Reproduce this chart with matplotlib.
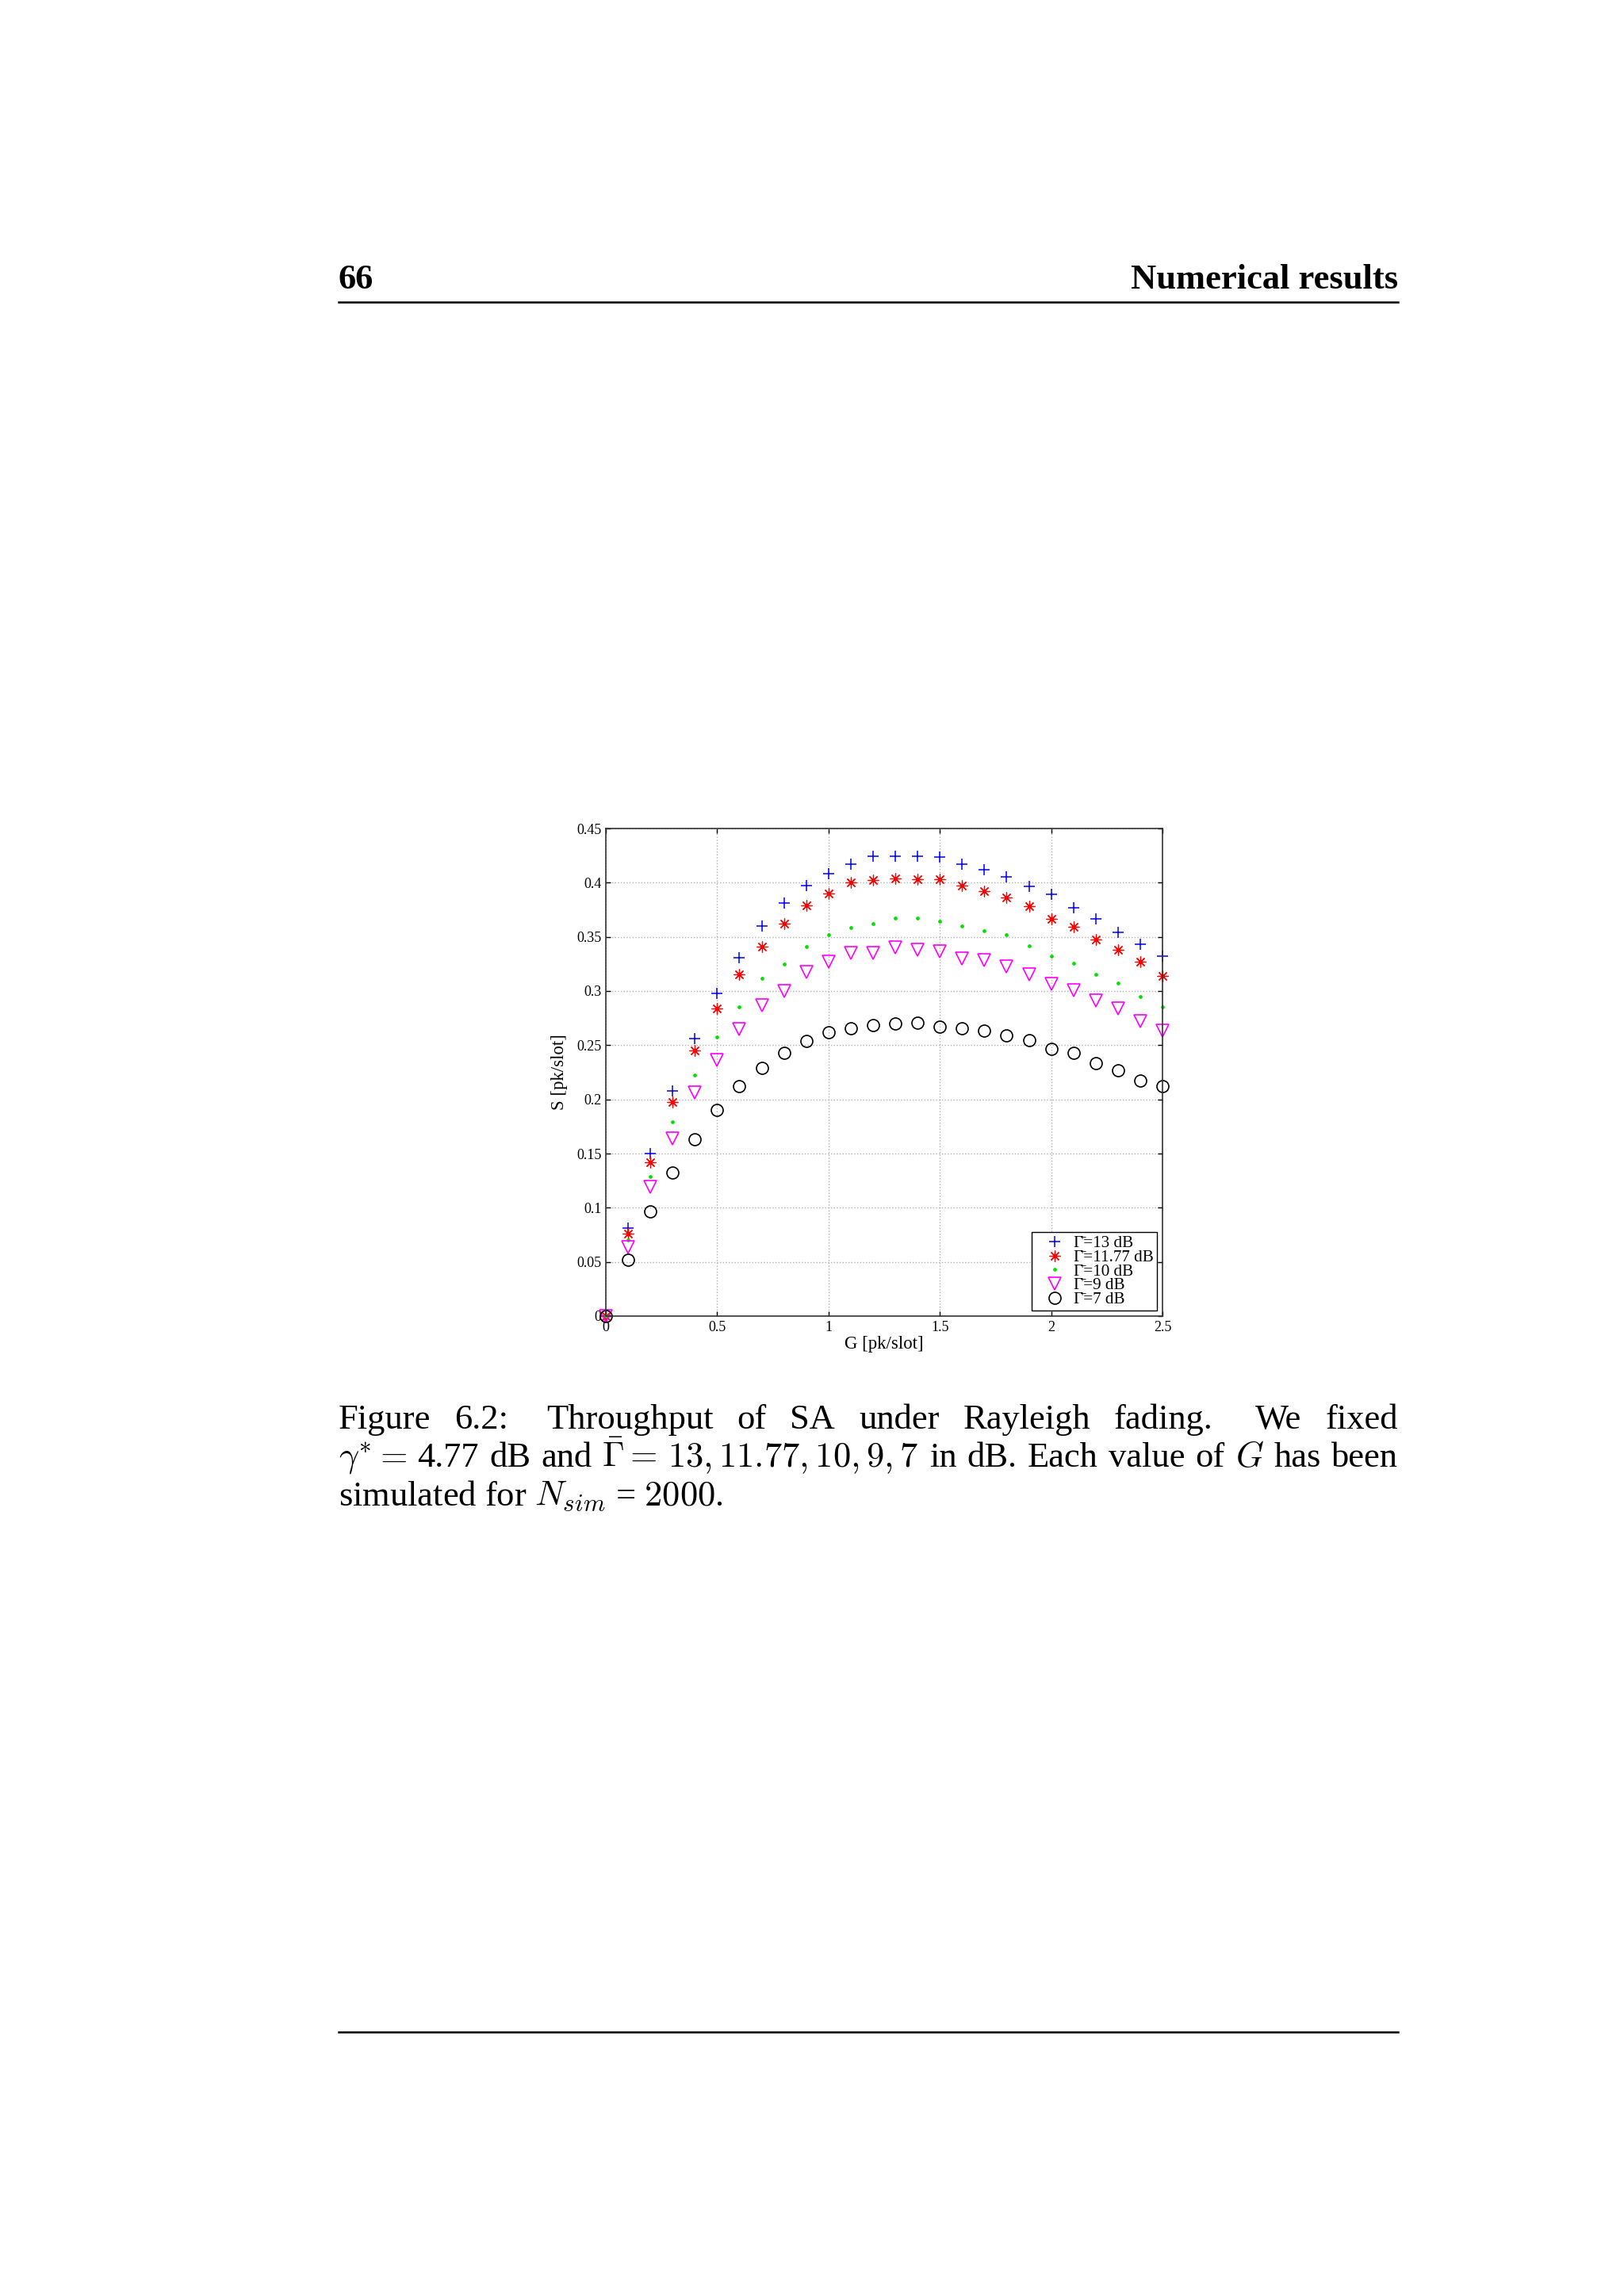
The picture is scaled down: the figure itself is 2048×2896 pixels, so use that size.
import numpy as np
import matplotlib.pyplot as plt
from matplotlib.lines import Line2D

# Throughput S versus offered load G, one series per mean SNR
G = [0.0, 0.1, 0.2, 0.3, 0.4, 0.5, 0.6, 0.7, 0.8, 0.9, 1.0, 1.1, 1.2,
     1.3, 1.4, 1.5, 1.6, 1.7, 1.8, 1.9, 2.0, 2.1, 2.2, 2.3, 2.4, 2.5]

S_13 = [0, 0.081, 0.150, 0.208, 0.256, 0.298, 0.331, 0.360, 0.381, 0.397,
        0.4085, 0.417, 0.4244, 0.4244, 0.4241, 0.4237, 0.4168, 0.4122, 0.4051,
        0.3966, 0.3895, 0.3768, 0.3663, 0.3541, 0.3434, 0.3322]
S_1177 = [0, 0.0761, 0.1422, 0.1976, 0.2451, 0.2837, 0.3151, 0.341, 0.362,
          0.379, 0.3902, 0.400, 0.4024, 0.4039, 0.4029, 0.4029, 0.3973, 0.392,
          0.3861, 0.378, 0.3663, 0.3595, 0.3476, 0.338, 0.3268, 0.3141]
S_10 = [0, 0.070, 0.1288, 0.179, 0.2227, 0.2576, 0.2856, 0.312, 0.3251, 0.3412,
        0.3522, 0.3583, 0.3619, 0.3673, 0.3673, 0.3641, 0.3598, 0.3554, 0.3517,
        0.3415, 0.3324, 0.3259, 0.3151, 0.3073, 0.2951, 0.2851]
S_9 = [0, 0.0634, 0.119, 0.1641, 0.2061, 0.2366, 0.2646, 0.2866, 0.300, 0.3178,
       0.3268, 0.3349, 0.3354, 0.3402, 0.3378, 0.3366, 0.330, 0.3288, 0.3229,
       0.3154, 0.3068, 0.3007, 0.291, 0.2841, 0.272, 0.2634]
S_7 = [0, 0.0517, 0.0963, 0.1327, 0.1634, 0.190, 0.2122, 0.2293, 0.2427, 0.2537,
       0.2622, 0.2659, 0.2688, 0.270, 0.2707, 0.2668, 0.2654, 0.2634, 0.2593,
       0.2544, 0.2468, 0.2427, 0.2334, 0.2268, 0.2176, 0.2122]

# Gamma with a combining macron on top
gbar = '\u0393\u0304'
labels = [gbar + '=13 dB', gbar + '=11.77 dB', gbar + '=10 dB',
          gbar + '=9 dB', gbar + '=7 dB']

xticks = [0, 0.5, 1, 1.5, 2, 2.5]
xtick_labels = ['0', '0.5', '1', '1.5', '2', '2.5']
yticks = [0, 0.05, 0.1, 0.15, 0.2, 0.25, 0.3, 0.35, 0.4, 0.45]
ytick_labels = ['0', '0.05', '0.1', '0.15', '0.2', '0.25', '0.3', '0.35', '0.4', '0.45']

W, H = 2048, 2896
plt.rcParams['font.family'] = ['Liberation Serif', 'DejaVu Serif']

fig = plt.figure(figsize=(W / 200, H / 200), dpi=200)
ax = fig.add_axes([764 / W, 1 - 1660 / H, 702 / W, 615 / H])

ax.plot(G, S_13, ls='none', marker='+', ms=5.0, mew=0.55, color='#0000ff',
        label=labels[0], clip_on=False)
ax.plot(G, S_1177, ls='none', marker=(8, 2, 0), ms=5.0, mew=0.45, color='#ff0000',
        label=labels[1], clip_on=False)
ax.plot(G, S_10, ls='none', marker='o', ms=1.7, mew=0, color='#00e000',
        label=labels[2], clip_on=False)
ax.plot(G, S_9, ls='none', marker='v', ms=5.6, mew=0.6, color='#ff00ff',
        mfc='none', label=labels[3], clip_on=False)
ax.plot(G, S_7, ls='none', marker='o', ms=5.4, mew=0.6, color='black',
        mfc='none', label=labels[4], clip_on=False)

ax.set_xlim(0, 2.5)
ax.set_ylim(0, 0.45)
ax.set_xticks(xticks)
ax.set_xticklabels(xtick_labels)
ax.set_yticks(yticks)
ax.set_yticklabels(ytick_labels)
ax.tick_params(direction='in', top=True, right=True, length=2.2, width=0.5,
               labelsize=6.5, pad=2)
ax.grid(True, ls=':', lw=0.5, color='#b0b0b0')
for sp in ax.spines.values():
    sp.set_linewidth(0.6)
    sp.set_color('#333333')
ax.set_xlabel('G [pk/slot]', fontsize=8.2, labelpad=1)
ax.set_ylabel('S [pk/slot]', fontsize=8.2, labelpad=4)

leg = ax.legend(loc='lower right', bbox_to_anchor=(0.99, 0.011), borderaxespad=0,
                fontsize=7.6, handlelength=2.3, handletextpad=0.0, borderpad=0.2,
                labelspacing=-0.1, fancybox=False, edgecolor='black', framealpha=1)
leg.get_frame().set_linewidth(0.5)

# page header and rules
fig.text(427 / W, 1 - 364 / H, '66', fontsize=16, weight='bold', va='baseline')
fig.text(1763 / W, 1 - 364 / H, 'Numerical results', fontsize=16, weight='bold',
         va='baseline', ha='right')
fig.add_artist(Line2D([427 / W, 1763 / W], [1 - 381 / H] * 2, lw=0.9, color='black'))
fig.add_artist(Line2D([427 / W, 1763 / W], [1 - 2563 / H] * 2, lw=0.9, color='black'))

# caption, justified word by word
renderer = fig.canvas.get_renderer()


def justify(words, y, gaps, x0=427, x1=1763):
    texts = [fig.text(0, 1 - y / H, w, fontsize=16, va='baseline',
                      math_fontfamily='cm') for w in words]
    widths = [t.get_window_extent(renderer).width for t in texts]
    unit = ((x1 - x0) - sum(widths)) / sum(gaps)
    x = x0
    for t, w, g in zip(texts, widths, gaps + [0]):
        t.set_x(x / W)
        x += w + g * unit


line1 = ['Figure', '6.2:', 'Throughput', 'of', 'SA', 'under', 'Rayleigh',
         'fading.', 'We', 'fixed']
justify(line1, 1802, [1, 1.6, 1, 1, 1, 1, 1, 1.8, 1])
line2 = [r'$\gamma^{*}=$', '4.77', 'dB', 'and', r'$\bar{\Gamma}=$',
         r'$13, 11.77, 10, 9, 7$', 'in', 'dB.', 'Each', 'value', 'of', r'$G$',
         'has', 'been']
justify(line2, 1850, [1] * (len(line2) - 1))
fig.text(427 / W, 1 - 1898 / H, r'simulated for $N_{sim}$ = $2000$.', fontsize=16,
         va='baseline', math_fontfamily='cm')

fig.savefig('out.png', dpi=200, facecolor='white')
